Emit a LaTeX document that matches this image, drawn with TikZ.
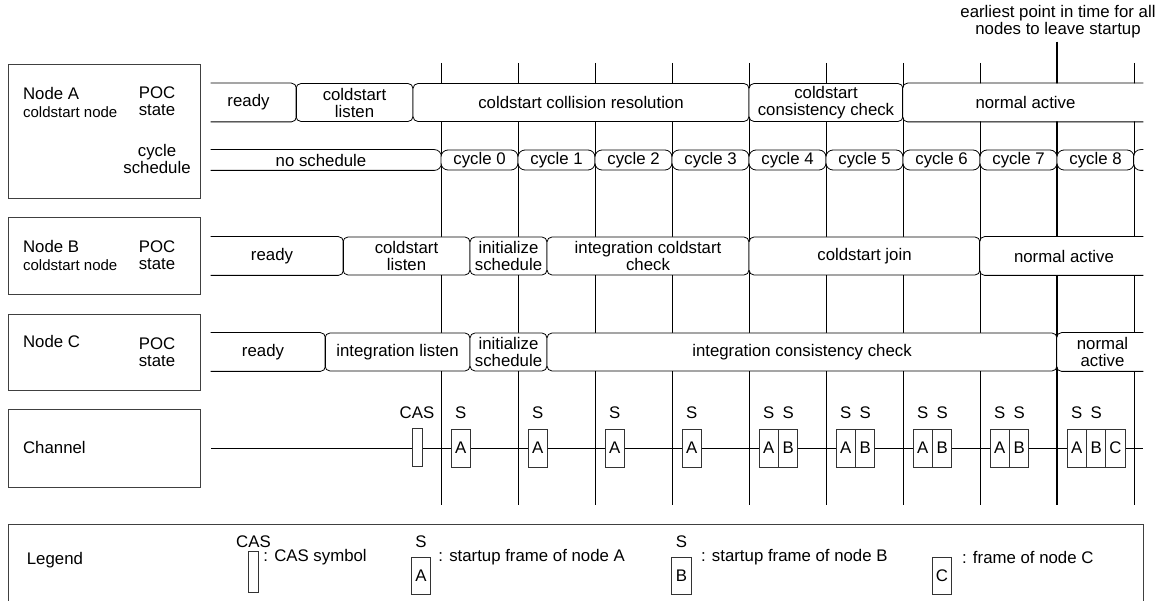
\documentclass[tikz,border=0pt]{standalone}
\usepackage{fontspec}
\setmainfont{Liberation Sans}
\usetikzlibrary{positioning}
\newcommand\dfont{\fontsize{16.8}{17}\selectfont}
\newcommand\sfont{\fontsize{15}{17}\selectfont}
\begin{document}
\begin{tikzpicture}[x=1pt,y=-1pt,line width=0.8pt,
every node/.style={font=\dfont,inner sep=1pt},
lbox/.style={draw=black!75,line width=1pt,anchor=north west,minimum width=192pt},
phase/.style={draw,fill=white,rounded corners=5pt,align=center,minimum height=38pt},
phaseopen/.style={phase,draw=none},
cyc/.style={draw,fill=white,rounded corners=7pt,minimum height=20pt,minimum width=77pt,inner sep=0pt},
frm/.style={draw=black!80,fill=white,minimum width=19.4pt,minimum height=38pt,inner sep=0pt}]
\useasboundingbox (0,0) rectangle (1165,601);

\foreach \k in {0,...,7,9} \draw (441+77*\k,63) -- (441+77*\k,505);
\node[align=center,inner sep=3pt] (early) at (1058,22) {earliest point in time for all\\nodes to leave startup};
\coordinate (earlyend) at (1057,505);
\draw[line width=1.5pt] (early.south -| earlyend) -- (earlyend);

\node[lbox,minimum height=134pt] (boxA) at (8,64) {};
\node[anchor=west] (nameA) at (21.7,93) {Node A};
\node[anchor=west,font=\sfont] (typeA) at (21.7,112) {coldstart node};
\node[align=center] (pocA) at (157,101.5) {POC\\state};
\node[align=center] (schA) at (157,159) {cycle\\schedule};

\node[phaseopen,minimum width=95pt] (rA1) at (248.5,102.5) {ready};
\node[phase,minimum width=117pt] (rA2) at (354.5,102.5) {coldstart\\listen};
\node[phase,minimum width=336pt] (rA3) at (581,102.5) {coldstart collision resolution};
\node[phase,minimum width=154pt] (rA4) at (826,102.5) {coldstart\\consistency check};
\node[phaseopen,minimum width=245pt] (rA5) at (1025.5,102.5) {normal active};
\draw[rounded corners=5pt] ([xshift=10pt]rA1.north west) -- (rA1.north east) -- (rA1.south east) -- ([xshift=10pt]rA1.south west);
\draw[rounded corners=5pt] ([xshift=-5pt]rA5.north east) -- (rA5.north west) -- (rA5.south west) -- ([xshift=-5pt]rA5.south east);

\node[cyc,draw=none,minimum width=240pt] (cN) at (321,160) {no schedule};
\draw[rounded corners=7pt] ([xshift=10pt]cN.north west) -- (cN.north east) -- (cN.south east) -- ([xshift=10pt]cN.south west);
\foreach \i in {0,...,8} \node[cyc] (c\i) at (479.5+77*\i,160) {cycle \i};
\node[cyc,draw=none,minimum width=14pt] (c9) at (1141,160) {};
\draw[rounded corners=7pt] ([xshift=-5pt]c9.north east) -- (c9.north west) -- (c9.south west) -- ([xshift=-5pt]c9.south east);

\node[lbox,minimum height=77pt] (boxB) at (8,217) {};
\node[anchor=west] (nameB) at (21.7,246) {Node B};
\node[anchor=west,font=\sfont] (typeB) at (21.7,265.5) {coldstart node};
\node[align=center] (pocB) at (157,255) {POC\\state};

\node[phaseopen,minimum width=142pt] (rB1) at (272,256) {ready};
\node[phase,minimum width=127pt] (rB2) at (406.5,256) {coldstart\\listen};
\node[phase,minimum width=77pt,inner sep=0pt] (rB3) at (508.5,256) {initialize\\schedule};
\node[phase,minimum width=202pt] (rB4) at (648,256) {integration coldstart\\check};
\node[phase,minimum width=231pt] (rB5) at (864.5,256) {coldstart join};
\node[phaseopen,minimum width=168pt] (rB6) at (1064,256) {normal active};
\draw[rounded corners=5pt] ([xshift=10pt]rB1.north west) -- (rB1.north east) -- (rB1.south east) -- ([xshift=10pt]rB1.south west);
\draw[rounded corners=5pt] ([xshift=-5pt]rB6.north east) -- (rB6.north west) -- (rB6.south west) -- ([xshift=-5pt]rB6.south east);

\node[lbox,minimum height=76pt] (boxC) at (8,314) {};
\node[anchor=west] (nameC) at (21.7,341.7) {Node C};
\node[align=center] (pocC) at (157,352.5) {POC\\state};

\node[phaseopen,minimum width=124pt] (rC1) at (263,352) {ready};
\node[phase,minimum width=145pt] (rC2) at (397.5,352) {integration listen};
\node[phase,minimum width=77pt,inner sep=0pt] (rC3) at (508.5,352) {initialize\\schedule};
\node[phase,minimum width=510pt] (rC4) at (802,352) {integration consistency check};
\node[phaseopen,minimum width=91pt] (rC5) at (1102.5,352) {normal\\active};
\draw[rounded corners=5pt] ([xshift=10pt]rC1.north west) -- (rC1.north east) -- (rC1.south east) -- ([xshift=10pt]rC1.south west);
\draw[rounded corners=5pt] ([xshift=-5pt]rC5.north east) -- (rC5.north west) -- (rC5.south west) -- ([xshift=-5pt]rC5.south east);

\node[lbox,minimum height=78pt] (boxCh) at (8,409) {};
\node[anchor=west] (nameCh) at (21.7,447) {Channel};
\coordinate (chs) at (211,448);
\coordinate (che) at (1143,448);
\draw (chs) -- (che);
\node[frm,minimum width=10pt] (cas) at (417,447.5) {};
\node (caslbl) at (417,413) {CAS};
\foreach \k in {0,...,8} {
  \node[frm] (fA\k) at (460.7+77*\k,448) {A};
  \node (sA\k) at (460.7+77*\k,413) {S};
}
\foreach \k in {4,...,8} {
  \node[frm] (fB\k) at (480.1+77*\k,448) {B};
  \node (sB\k) at (480.1+77*\k,413) {S};
}
\node[frm] (fC8) at (1115.5,448) {C};

\node[lbox,minimum width=1135pt,minimum height=85pt] (legend) at (8,524) {};
\node[anchor=west] (legtitle) at (25.5,560) {Legend};
\node[frm,minimum width=9.5pt,minimum height=41pt] (lcas) at (253.5,571.5) {};
\node (lcaslbl) at (253.5,542) {CAS};
\node[anchor=west] (lcastxt) at (262,557) {: CAS symbol};
\node[frm,minimum height=37pt] (lA) at (421,575.5) {A};
\node (lAs) at (421,542) {S};
\node[anchor=west] (lAtxt) at (437,557) {: startup frame of node A};
\node[frm,minimum height=37pt] (lB) at (681.5,575.5) {B};
\node (lBs) at (681.5,542) {S};
\node[anchor=west] (lBtxt) at (699.7,557) {: startup frame of node B};
\node[frm,minimum height=37pt] (lC) at (942,575.5) {C};
\node[anchor=west] (lCtxt) at (960.7,557) {: frame of node C};
\end{tikzpicture}
\end{document}
